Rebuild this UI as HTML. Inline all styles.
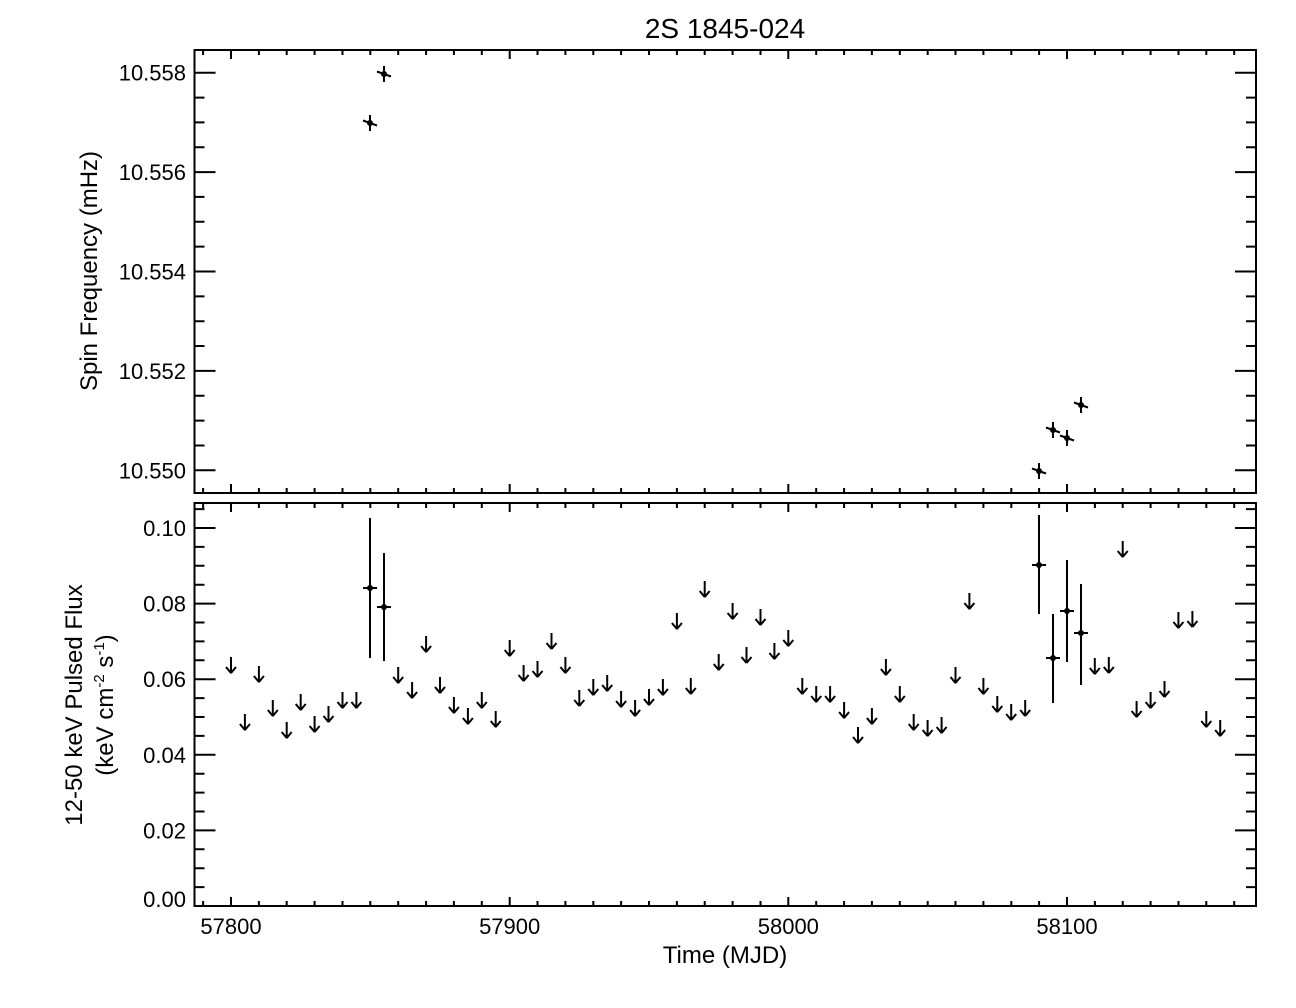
<!DOCTYPE html>
<html><head><meta charset="utf-8"><style>
html,body{margin:0;padding:0;background:#fff;}
svg{display:block;font-family:"Liberation Sans",Arial,sans-serif;}
</style></head><body>
<svg id="s" width="1296" height="1008" viewBox="0 0 1296 1008" xmlns="http://www.w3.org/2000/svg">
<rect width="1296" height="1008" fill="#fff"/>
<text x="725" y="38" font-size="28" text-anchor="middle">2S 1845-024</text>
<g id="g" stroke="#000" stroke-width="2" fill="none"></g>
<g id="t" font-size="22" fill="#000"></g>
<text x="725" y="963" font-size="24" text-anchor="middle">Time (MJD)</text>
<text transform="translate(97,271) rotate(-90)" font-size="24" text-anchor="middle">Spin Frequency (mHz)</text>
<text transform="translate(82,705) rotate(-90)" font-size="24" text-anchor="middle">12-50 keV Pulsed Flux</text>
<text transform="translate(113,705) rotate(-90)" font-size="24" text-anchor="middle">(keV cm<tspan font-size="15" dy="-9">-2</tspan><tspan dy="9"> s</tspan><tspan font-size="15" dy="-9">-1</tspan><tspan dy="9">)</tspan></text>
</svg>
<script>
var g=document.getElementById('g'),t=document.getElementById('t'),d='';
function L(a,b,c,e){d+='M'+a+' '+b+'L'+c+' '+e;}
function X(v){return 231+(v-57800)*2.7867;}
d+='M194.5 50H1256V493H194.5Z M194.5 503H1256V906H194.5Z';
for(var v=57790;v<=58160;v+=10){var x=X(v).toFixed(1),M=(v%100==0);
 var l=M?9:5;L(x,493,x,493-l);L(x,50,x,50+l);L(x,503,x,503+l);L(x,906,x,906-l);}
var txt='';
[57800,57900,58000,58100].forEach(function(v){txt+='<text x="'+X(v)+'" y="934" text-anchor="middle">'+v+'</text>';});
for(var i=0;i<=17;i++){var val=10.5495+i*0.0005,y=72.7+(10.558-val)*49700;if(y<50||y>493)continue;
 var M=Math.abs((val*1000)%2)<0.01||Math.abs((val*1000)%2-2)<0.01;var l=M?21:10;
 y=y.toFixed(1);L(194.5,y,194.5+l,y);L(1256,y,1256-l,y);
 if(M)txt+='<text x="186" y="'+(+y+8)+'" text-anchor="end">'+val.toFixed(3)+'</text>';}
for(var i=0;i<=21;i++){var val=i*0.005,y=906-val*3780;if(y<503)continue;
 var M=(i%4==0);var l=M?21:10;y=y.toFixed(1);L(194.5,y,194.5+l,y);L(1256,y,1256-l,y);
 if(M)txt+='<text x="186" y="'+(i==0?907:(+y+8))+'" text-anchor="end">'+val.toFixed(2)+'</text>';}
[[370,123],[384,74],[1039,471],[1053,430],[1067,438],[1081,405]].forEach(function(p){
 L(p[0]-7,p[1]-2.5,p[0]+7,p[1]+2.5);L(p[0],p[1]-8,p[0],p[1]+8);
 txt+='<circle cx="'+p[0]+'" cy="'+p[1]+'" r="3"/>';});
[[370,588,518,658],[384,607,553,661],[1039,565,515,614],[1053,658,614,703],[1067,611,560,662],[1081,633,584,685]].forEach(function(p){
 L(p[0]-7,p[1],p[0]+7,p[1]);L(p[0],p[2],p[0],p[3]);
 txt+='<circle cx="'+p[0]+'" cy="'+p[1]+'" r="3"/>';});
var A={0:657,1:714,2:666,3:700,4:722,5:694,6:716,7:706,8:692,9:692,12:667,13:682,14:636,15:677,16:697,17:708,18:692,19:711,20:640,21:665,22:661,23:633,24:657,25:690,26:679,27:675,28:691,29:700,30:689,31:679,32:613,33:678,34:581,35:654,36:603,37:647,38:609,39:643,40:630,41:678,42:686,43:686,44:702,45:727,46:708,47:659,48:686,49:714,50:720,51:717,52:667,53:593,54:678,55:696,56:704,57:700,62:658,63:657,64:541,65:701,66:692,67:681,68:612,69:611,70:711,71:720};
for(var k in A){var x=(231+13.933*k).toFixed(1),y=A[k];
 L(x,y,x,y+16);L(x-5,y+10,x,y+16);L(+x+5,y+10,x,y+16);}
g.innerHTML='<path d="'+d+'"/>';
t.innerHTML=txt;
</script>
</body></html>
